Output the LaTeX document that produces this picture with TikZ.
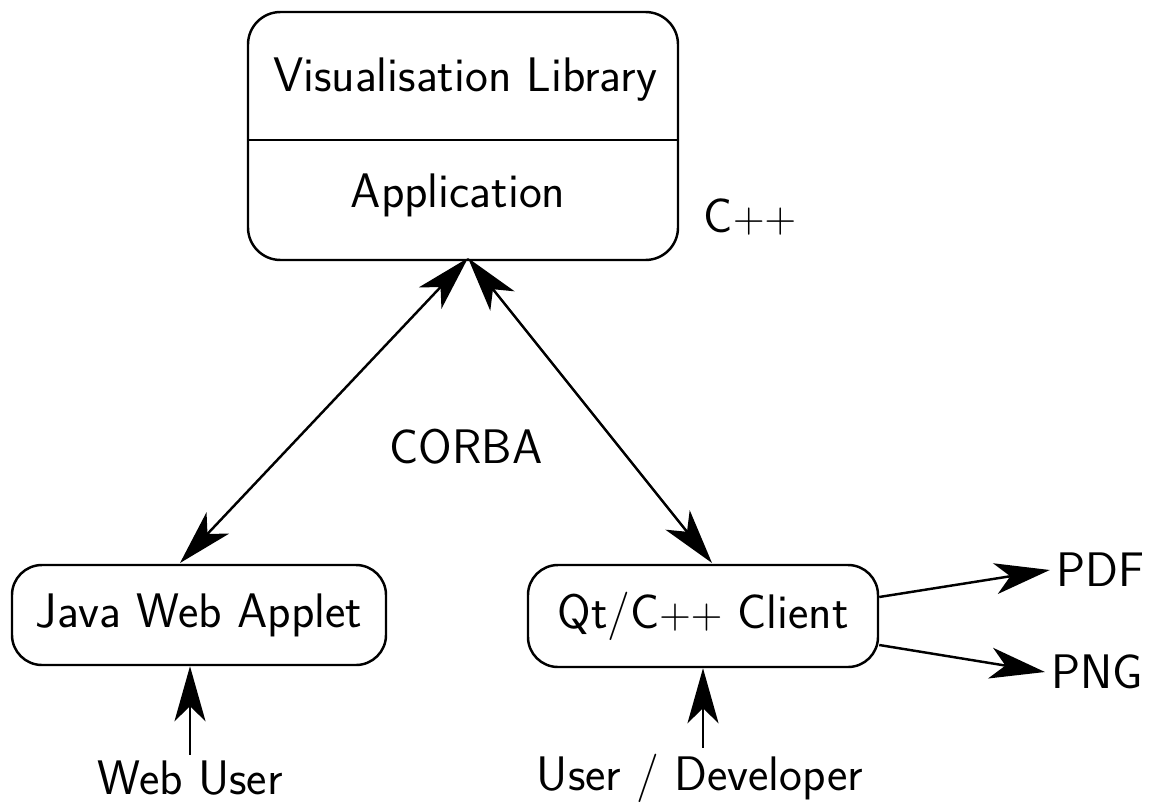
\documentclass[tikz,border=0pt]{standalone}
\usepackage{amsmath}
\usetikzlibrary{arrows.meta}
\renewcommand{\familydefault}{\sfdefault}

\begin{document}
\begin{tikzpicture}[>={Stealth[length=1.1cm,width=0.62cm,inset=0.3cm]}, line width=1.4pt,
    font=\fontsize{27.6}{33}\selectfont]
\useasboundingbox (0,0) rectangle (23.18,-16.08);

\tikzstyle{every node}=[draw, rounded corners=0.65cm, inner sep=0pt]
\draw    (9.26, -2.72)  node (lib)  [minimum width=8.6cm, minimum height=4.96cm] {}
         (3.98, -12.3)  node (java) [minimum width=7.48cm, minimum height=2cm, rounded corners=0.6cm] {Java Web Applet}
         (14.06,-12.32) node (qt)   [minimum width=7cm, minimum height=2.04cm, rounded corners=0.6cm] {Qt/C$++$ Client};
\draw (lib.west |- 0,-2.8) -- (lib.east |- 0,-2.8);

\tikzstyle{every node}=[inner sep=0pt]
\draw    (9.3,  -1.6)   node (vis)   {Visualisation Library}
         (9.16, -3.9)   node (appl)  {Application}
         (15.0, -4.34)  node (cpp)   {C$++$}
         (9.32, -8.94)  node (corba) {CORBA}
         (22.0, -11.4)  node (pdf)   {PDF}
         (21.94,-13.44) node (png)   {PNG}
         (3.8,  -15.56) node (web)   {Web User}
         (14.0, -15.56) node (dev)   {User / Developer};

\coordinate (top) at (9.36,-5.16);
\coordinate (jtop) at (3.6,-11.26);
\coordinate (qtop) at (14.24,-11.26);

\draw[<->] (top) -- (jtop);
\draw[<->] (top) -- (qtop);

\draw[->] (qt.east |- 0,-11.94) -- ([xshift=-0.1cm]pdf.west);
\draw[->] (qt.east |- 0,-12.9) -- ([xshift=-0.1cm]png.west);

\draw[->] ([yshift=0.1cm]web.north) -- (web.north |- java.south);
\draw[->] ([yshift=0.1cm]dev.north -| qt.south) -- (qt.south);

\end{tikzpicture}
\end{document}
